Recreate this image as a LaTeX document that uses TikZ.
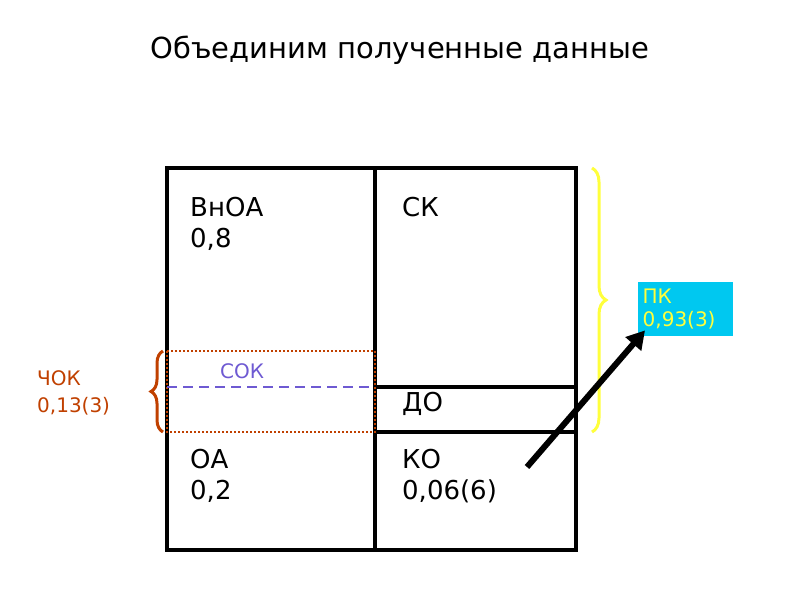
\documentclass[tikz,border=0pt]{standalone}
\usepackage{fontspec}
\setmainfont{DejaVu Sans}
\usetikzlibrary{decorations.pathreplacing,arrows.meta}
\definecolor{redc}{RGB}{192,64,0}
\definecolor{purp}{RGB}{110,90,210}
\definecolor{yel}{RGB}{255,255,60}
\definecolor{cyanb}{RGB}{0,200,240}
\tikzset{lbl/.style={anchor=north west,align=left,font=\fontsize{26}{31}\selectfont,inner sep=0pt},
 frame/.style={line width=3.2pt}}
\begin{document}
\begin{tikzpicture}[x=1pt,y=-1pt]
\useasboundingbox (0,0) rectangle (800,600);
\node[font=\fontsize{29}{32}\selectfont] (title) at (400,50) {Объединим полученные данные};
\draw[frame] (167,168) rectangle (576,550);
\draw[frame] (375,168) -- (375,550);
\draw[frame] (375,387) -- (576,387);
\draw[frame] (375,432) -- (576,432);
\draw[redc,line width=2pt,dotted] (167,351) rectangle (375,432);
\draw[purp,line width=2.5pt,dash pattern=on 10pt off 6pt] (167,387) -- (375,387);
\node[purp,font=\fontsize{20}{22}\selectfont] (sok) at (242,371) {СОК};
\node[lbl] (vnoa) at (190,197) {ВнОА\\0,8};
\node[lbl] (sk) at (402,197) {СК};
\node[lbl] (do) at (402,392) {ДО};
\node[lbl] (oa) at (190,449) {ОА\\0,2};
\node[lbl] (ko) at (402,449) {КО\\0,06(6)};
\draw[yel,line width=3pt,decorate,decoration={brace,amplitude=14pt}] (592,168) -- (592,432);
\node[fill=cyanb,text=yel,anchor=north west,minimum width=95pt,minimum height=54pt,align=left,font=\fontsize{20}{23}\selectfont,text width=86pt,inner sep=4.5pt] (pk) at (638,282) {ПК\\0,93(3)};
\draw[redc,line width=3pt,decorate,decoration={brace,amplitude=12pt,mirror}] (163,351) -- (163,432);
\node[redc,anchor=north west,align=left,font=\fontsize{20}{27}\selectfont,inner sep=0pt] (chok) at (37,370) {ЧОК\\0,13(3)};
\coordinate (as) at (527,467);
\coordinate (ae) at ([shift={(7,-6)}]pk.south west);
\draw[line width=6pt,-{Triangle[length=18pt,width=20pt]}] (as) -- (ae);
\end{tikzpicture}
\end{document}
